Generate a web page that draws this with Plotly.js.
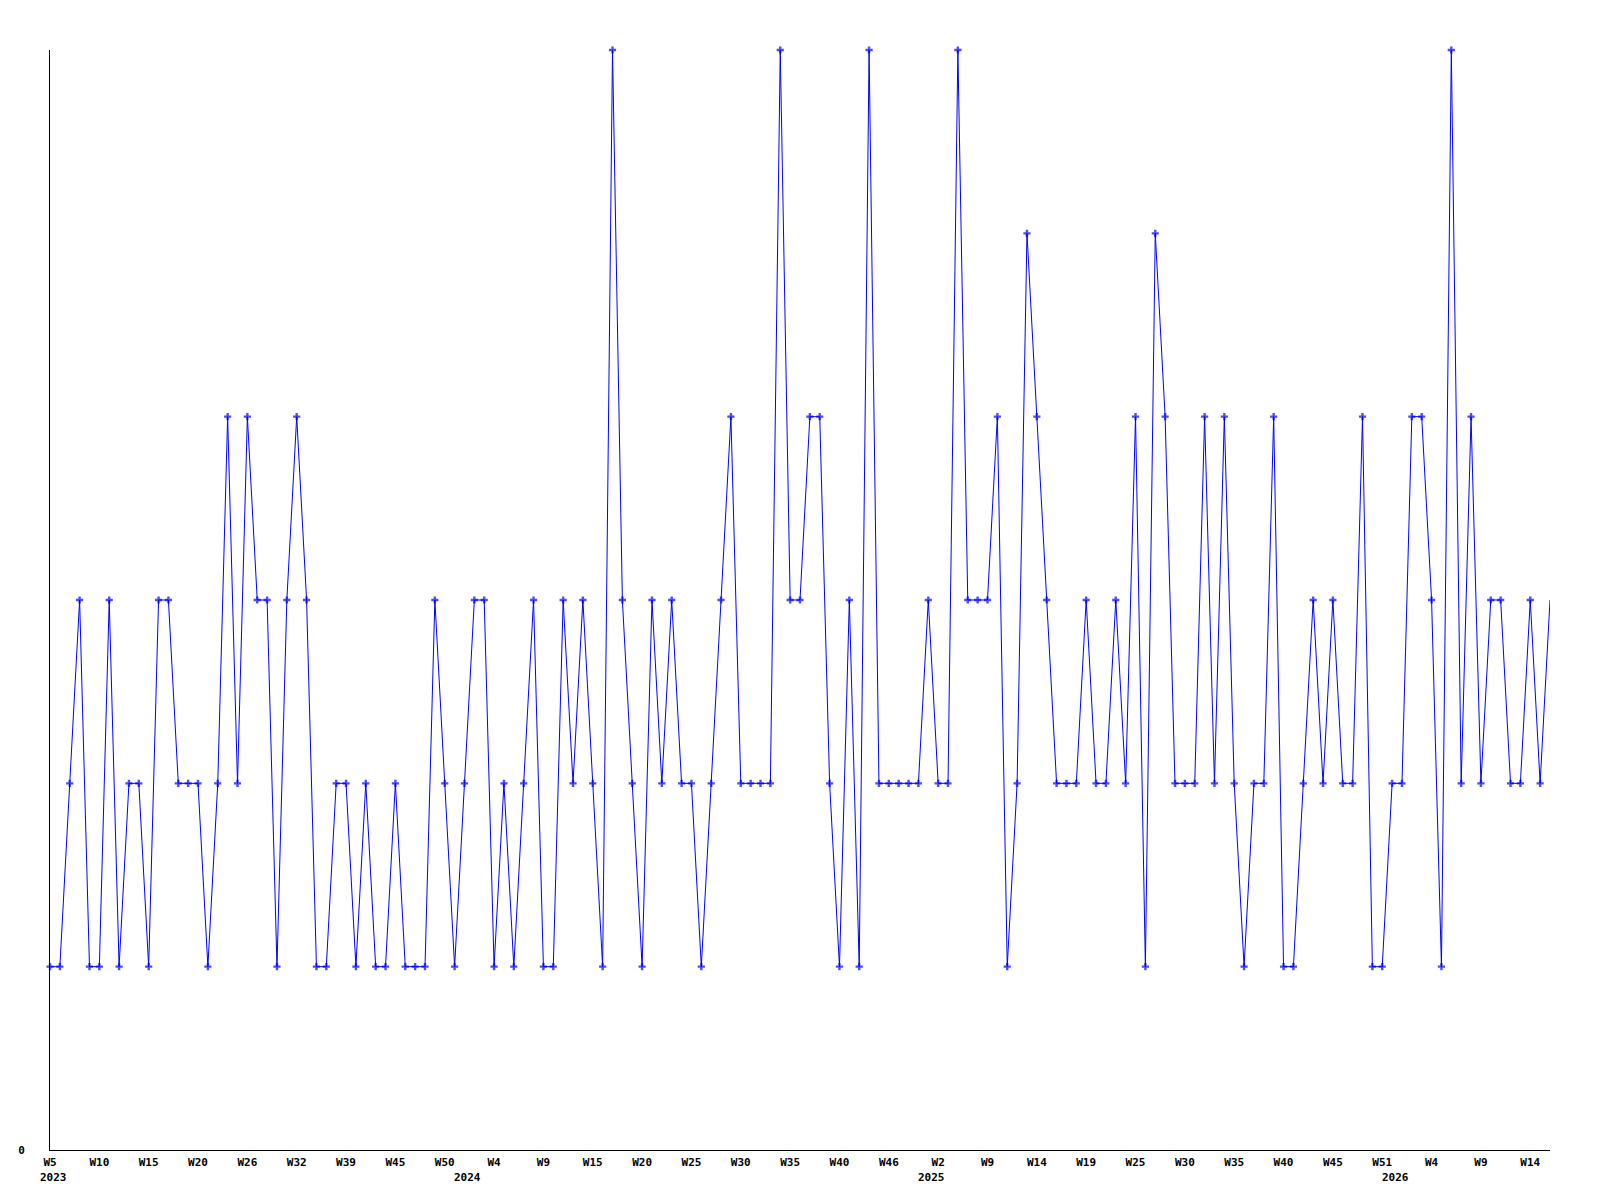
<!DOCTYPE html>
<html>
<head>
<meta charset="utf-8">
<script src="https://cdn.plot.ly/plotly-3.0.1.min.js"></script>
<style>html,body{margin:0;padding:0;background:#fff;}#chart{width:1600px;height:1200px;}</style>
</head>
<body>
<div id="chart"></div>
<script>
// Weekly values (one point per week with data)
const values = [
  1,1,2,3,1,1,3,1,2,2,1,3,3,2,2,2,1,2,4,2,4,3,3,1,3,4,3,1,1,2,2,1,
  2,1,1,2,1,1,1,3,2,1,2,3,3,1,2,1,2,3,1,1,3,2,3,2,1,6,3,2,1,3,2,3,
  2,2,1,2,3,4,2,2,2,2,6,3,3,4,4,2,1,3,1,6,2,2,2,2,2,3,2,2,6,3,3,
  3,4,1,2,5,4,3,2,2,2,3,2,2,3,2,4,1,5,4,2,2,2,4,2,4,2,1,2,2,4,1,
  1,2,3,2,3,2,2,4,1,1,2,2,4,4,3,1,6,2,4,2,3,3,2,2,3,2,3
];
// Tick labels shown every 5th point
const weekTickLabels = ["W5","W10","W15","W20","W26","W32","W39","W45","W50","W4","W9","W15","W20","W25","W30","W35","W40","W46","W2","W9","W14","W19","W25","W30","W35","W40","W45","W51","W4","W9","W14"];
const tickEvery = 5;
// Year labels and the index of the first point in each year
const years = ["2023","2024","2025","2026"];
const yearStartIndex = [0,42,89,136];

const xs = values.map((v,i)=>i);
const tickvals = weekTickLabels.map((t,i)=>i*tickEvery);
const markerSizes = values.map((v,i)=> i === values.length-1 ? 0 : 6);

const fontFam = '"DejaVu Sans Mono", "Liberation Mono", monospace';

const trace = {
  x: xs, y: values, type: 'scatter', mode: 'lines+markers',
  line: {color: '#0000ff', width: 1},
  marker: {symbol: 'cross', size: markerSizes, color: '#0000ff', line: {width: 0}},
  cliponaxis: false, hoverinfo: 'x+y'
};

const annotations = years.map((y,i)=>({
  text: y, x: yearStartIndex[i], xref: 'x', y: 0, yref: 'paper',
  yshift: -27, xshift: 3, xanchor: 'center', yanchor: 'middle', showarrow: false,
  font: {family: fontFam, size: 11, color: '#000', weight: 'bold'}
}));

const layout = {
  width: 1600, height: 1200,
  margin: {l: 50, r: 50, t: 50, b: 50},
  paper_bgcolor: '#fff', plot_bgcolor: '#fff',
  showlegend: false,
  xaxis: {
    range: [0, values.length-1], showgrid: false, zeroline: false,
    showline: true, linecolor: '#000', linewidth: 1,
    tickmode: 'array', tickvals: tickvals, ticktext: weekTickLabels,
    ticks: '', tickangle: 0, ticklabelstandoff: 2,
    tickfont: {family: fontFam, size: 11, color: '#000', weight: 'bold'}
  },
  yaxis: {
    range: [0, 6], showgrid: false, zeroline: false,
    showline: true, linecolor: '#000', linewidth: 1,
    tickmode: 'array', tickvals: [0], ticktext: ['0'],
    ticks: '', ticklabelstandoff: 22,
    tickfont: {family: fontFam, size: 11, color: '#000', weight: 'bold'}
  },
  annotations: annotations
};

Plotly.newPlot('chart', [trace], layout, {displayModeBar: false, staticPlot: true});
</script>
</body>
</html>
